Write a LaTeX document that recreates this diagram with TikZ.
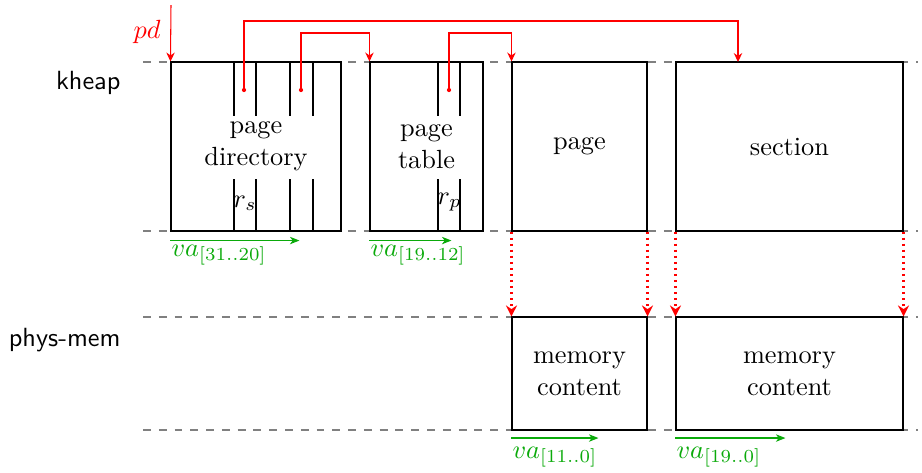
\documentclass[tikz,border=0pt]{standalone}
\usetikzlibrary{arrows.meta,calc}
\newdimen\pxu
\pxu=0.3802pt
\definecolor{vagreen}{RGB}{10,170,10}
\begin{document}
\begin{tikzpicture}[x=\pxu,y=-\pxu,
  memblock/.style={draw=black,line width=0.4pt,align=center,inner sep=0pt,font=\normalsize},
  lane/.style={draw=gray,line width=0.4pt,dash pattern=on 3pt off 3pt},
  slot/.style={draw=black,line width=0.4pt},
  ptr/.style={draw=red,line width=0.4pt,-{Stealth[length=3.4pt,width=3.2pt,inset=1.1pt]}},
  ptrdot/.style={circle,fill=red,inner sep=0pt,minimum size=1.6pt},
  copyarrow/.style={draw=red,line width=0.8pt,dash pattern=on 0.8pt off 1.5pt,-{Stealth[length=4.2pt,width=4.2pt,inset=1.4pt]}},
  vaarrow/.style={draw=vagreen,line width=0.45pt,-{Stealth[length=3.6pt,width=2.8pt,inset=1pt]}},
  valabel/.style={text=vagreen,anchor=base west,inner sep=0pt},
  region/.style={font=\sffamily,anchor=base east,inner sep=0pt}]
  \useasboundingbox (0,0) rectangle (922,472);

  % region boundaries
  \draw[lane] (143,62) -- (918,62);
  \draw[lane] (143,231) -- (918,231);
  \draw[lane] (143,317) -- (918,317);
  \draw[lane] (143,430) -- (918,430);

  \node[region] (kheap) at (121,89) {kheap};
  \node[region] (phys) at (121,346) {phys-mem};

  % kheap blocks
  \node[memblock,minimum width=170\pxu,minimum height=169\pxu] (pdir) at (256,146.5) {page\\directory};
  \node[memblock,minimum width=113\pxu,minimum height=169\pxu] (ptab) at (426.5,146.5) {page\\table};
  \node[memblock,minimum width=135\pxu,minimum height=169\pxu] (pg) at (579.5,146.5) {page};
  \node[memblock,minimum width=227\pxu,minimum height=169\pxu] (sec) at (789.5,146.5) {section};

  % physical memory blocks
  \node[memblock,minimum width=135\pxu,minimum height=113\pxu] (mem1) at (579.5,373.5) {memory\\content};
  \node[memblock,minimum width=227\pxu,minimum height=113\pxu] (mem2) at (789.5,373.5) {memory\\content};

  % entry slots in the page directory
  \foreach \x in {234,256,290,313} {
    \draw[slot] (\x,62) -- (\x,116);
    \draw[slot] (\x,179) -- (\x,231);
  }
  % entry slots in the page table
  \foreach \x in {438,460} {
    \draw[slot] (\x,62) -- (\x,116);
    \draw[slot] (\x,179) -- (\x,231);
  }
  \node[anchor=base,inner sep=0pt] (rs) at (245,207) {$r_s$};
  \node[anchor=base,inner sep=0pt] (rp) at (449.5,204) {$r_p$};

  % pointer entries
  \node[ptrdot] (d1) at (244,90) {};
  \node[ptrdot] (d2) at (301,90) {};
  \node[ptrdot] (d3) at (449,90) {};
  \coordinate (lvlA) at (0,21);
  \coordinate (lvlB) at (0,33);
  \coordinate (sectgt) at (738,62);
  \coordinate (pdsrc) at (171,5);

  \draw[ptr] (pdsrc) -- (pdir.north west);
  \node[text=red,anchor=base east,inner sep=0pt] (pd) at (161,38) {$pd$};
  \draw[ptr] (d1.center) |- (sectgt |- lvlA) -- (sectgt);
  \draw[ptr] (d2.center) |- (ptab.north west |- lvlB) -- (ptab.north west);
  \draw[ptr] (d3.center) |- (pg.north west |- lvlB) -- (pg.north west);

  % mapping onto physical memory
  \draw[copyarrow] (pg.south west) -- (mem1.north west);
  \draw[copyarrow] (pg.south east) -- (mem1.north east);
  \draw[copyarrow] (sec.south west) -- (mem2.north west);
  \draw[copyarrow] (sec.south east) -- (mem2.north east);

  % virtual address bit ranges
  \draw[vaarrow] ($(pdir.south west)+(0,9)$) -- ++(129,0);
  \node[valabel] (va1) at (171,256) {$va_{[31..20]}$};
  \draw[vaarrow] ($(ptab.south west)+(0,9)$) -- ++(82,0);
  \node[valabel] (va2) at (370,256) {$va_{[19..12]}$};
  \draw[vaarrow] ($(mem1.south west)+(0,7.5)$) -- ++(87,0);
  \node[valabel] (va3) at (512,458) {$va_{[11..0]}$};
  \draw[vaarrow] ($(mem2.south west)+(0,7.5)$) -- ++(110,0);
  \node[valabel] (va4) at (676,458) {$va_{[19..0]}$};
\end{tikzpicture}
\end{document}
